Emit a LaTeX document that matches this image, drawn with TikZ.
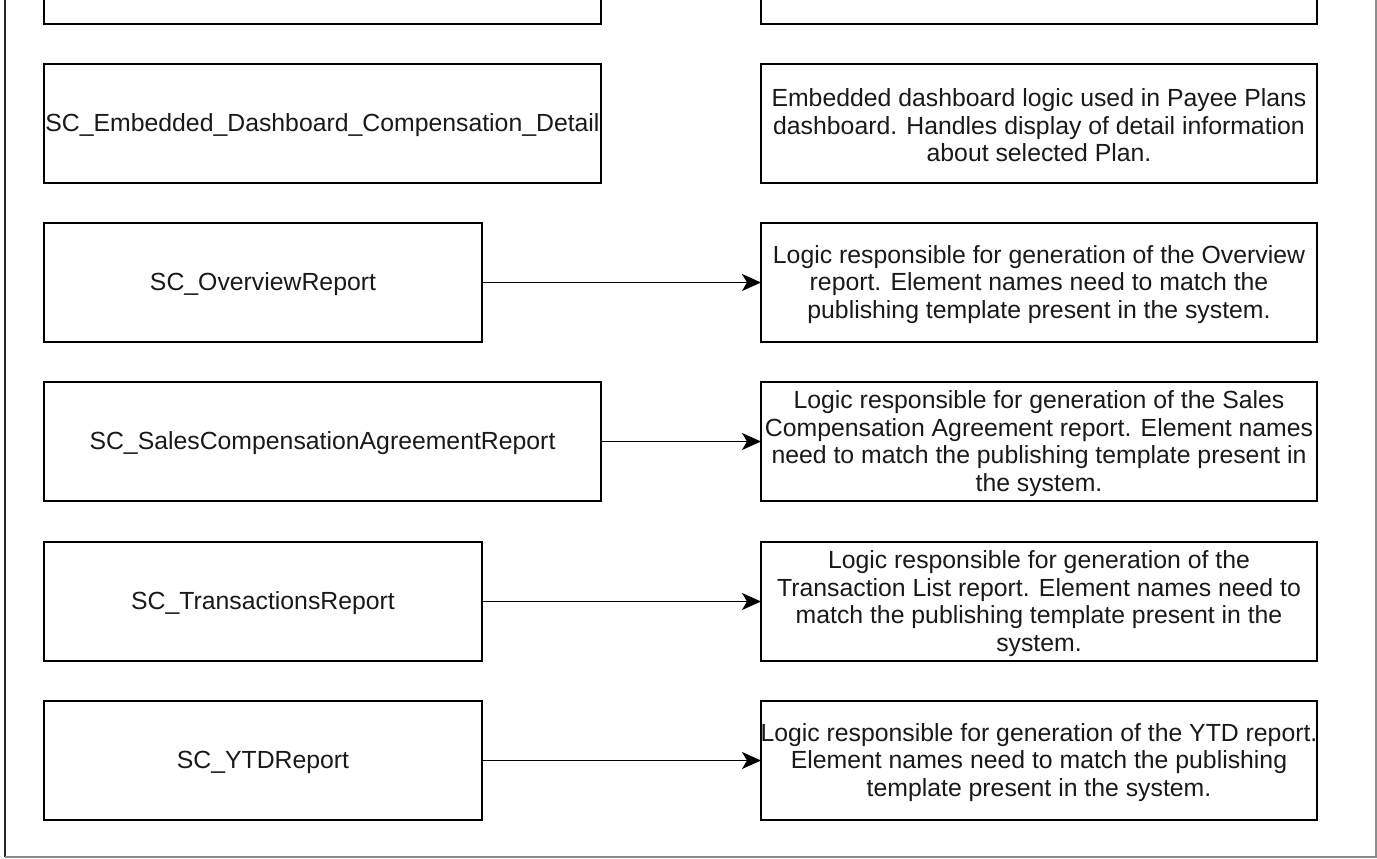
\documentclass[tikz,border=0pt]{standalone}
\usepackage{fontspec}
\setmainfont{Liberation Sans}
\usetikzlibrary{arrows.meta}
\begin{document}
\begin{tikzpicture}[x=1pt,y=-1pt,
  box/.style={draw=black,line width=1.6pt,rectangle,inner sep=0pt,outer sep=0pt,minimum height=119pt},
  wide/.style={box,minimum width=557pt},
  narrow/.style={box,minimum width=438pt},
  desc/.style={box,minimum width=556pt},
  txt/.style={font=\fontsize{24.8}{27.5}\selectfont,text=black!90,align=center,inner sep=0pt,yshift=-2pt},
  arr/.style={draw=black,line width=1.7pt,-{Stealth[length=19pt,width=17pt,inset=5pt]}},
  frameline/.style={line width=1.4pt}]
\useasboundingbox (0,0) rectangle (1377,859);
\clip (0,0) rectangle (1377,859);

% enclosing frame
\coordinate (ftl) at (5,-20);
\coordinate (fbl) at (5,857);
\coordinate (fbr) at (1376,857);
\coordinate (ftr) at (1376,-20);
\draw[frameline,black!85] (ftl) -- (fbl);
\draw[frameline,black!45] (fbl) -- (fbr) -- (ftr);

% left column: script names
\node[wide]   (l1) at (322.5,-35.5) {};
\node[wide]   (l2) at (322.5,123.5) {};
\node[narrow] (l3) at (263,282.5) {};
\node[wide]   (l4) at (322.5,441.5) {};
\node[narrow] (l5) at (263,601.5) {};
\node[narrow] (l6) at (263,760.5) {};

\node[txt] at (l2) {SC\_Embedded\_Dashboard\_Compensation\_Detail};
\node[txt] at (l3) {SC\_OverviewReport};
\node[txt] at (l4) {SC\_SalesCompensationAgreementReport};
\node[txt] at (l5) {SC\_TransactionsReport};
\node[txt] at (l6) {SC\_YTDReport};

% right column: descriptions
\node[desc] (r1) at (1039,-35.5) {};
\node[desc] (r2) at (1039,123.5) {};
\node[desc] (r3) at (1039,282.5) {};
\node[desc] (r4) at (1039,441.5) {};
\node[desc] (r5) at (1039,601.5) {};
\node[desc] (r6) at (1039,760.5) {};

\node[txt] at (r2) {Embedded dashboard logic used in Payee Plans\\dashboard. Handles display of detail information\\about selected Plan.};
\node[txt] at (r3) {Logic responsible for generation of the Overview\\report. Element names need to match the\\publishing template present in the system.};
\node[txt] at (r4) {Logic responsible for generation of the Sales\\Compensation Agreement report. Element names\\need to match the publishing template present in\\the system.};
\node[txt] at (r5) {Logic responsible for generation of the\\Transaction List report. Element names need to\\match the publishing template present in the\\system.};
\node[txt] at (r6) {Logic responsible for generation of the YTD report.\\Element names need to match the publishing\\template present in the system.};

% connectors
\draw[arr] (l3.east) -- (r3.west);
\draw[arr] (l4.east) -- (r4.west);
\draw[arr] (l5.east) -- (r5.west);
\draw[arr] (l6.east) -- (r6.west);
\end{tikzpicture}
\end{document}
